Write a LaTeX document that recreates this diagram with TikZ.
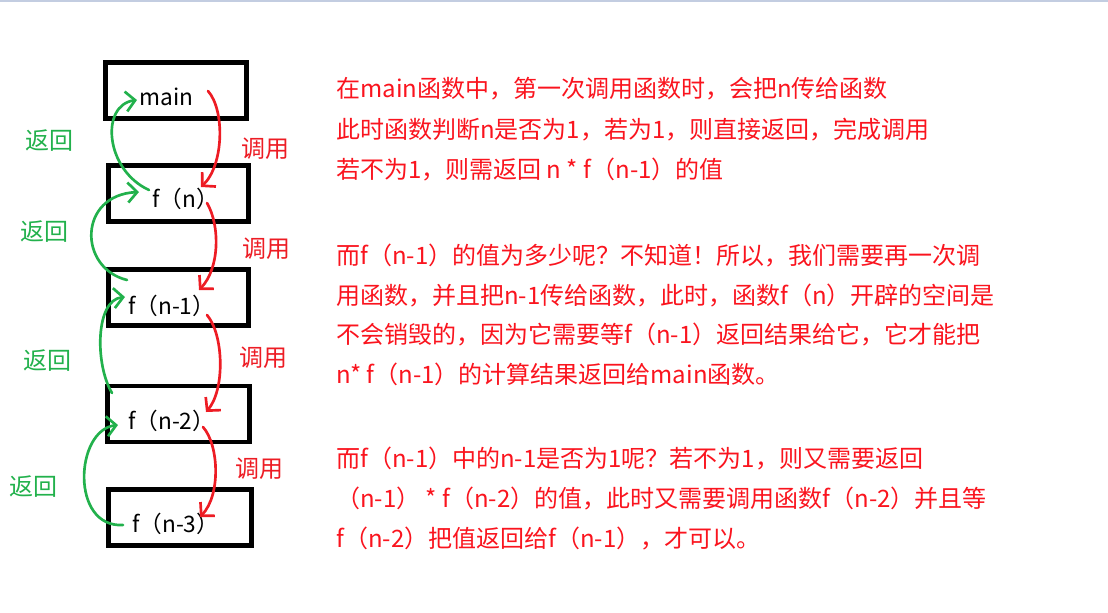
\documentclass[tikz,border=0pt]{standalone}
\usepackage{fontspec}
\setmainfont{Noto Sans CJK SC}
\usetikzlibrary{arrows.meta}
\definecolor{pred}{RGB}{237,28,36}
\definecolor{pgreen}{RGB}{34,177,76}
\definecolor{tred}{RGB}{250,20,30}
\definecolor{topline}{RGB}{195,205,225}
\begin{document}
\begin{tikzpicture}[x=0.75pt,y=-0.75pt,
  frame/.style={draw=black,line width=3.6pt,inner sep=0pt,minimum height=42pt},
  boxtext/.style={anchor=base west,inner sep=0pt,font=\fontsize{17}{20}\selectfont},
  calllabel/.style={anchor=base,inner sep=0pt,text=pred,font=\fontsize{18}{21}\selectfont},
  retlabel/.style={anchor=base,inner sep=0pt,text=pgreen,font=\fontsize{18}{21}\selectfont},
  para/.style={anchor=base west,inner sep=0pt,text=tred,font=\fontsize{18}{21}\selectfont},
  callarrow/.style={draw=pred,line width=2pt,line cap=round,-{Straight Barb[length=7pt,width=15pt,line width=2pt]}},
  retarrow/.style={draw=pgreen,line width=2pt,line cap=round,-{Straight Barb[length=7pt,width=15pt,line width=2pt]}}]
\useasboundingbox (0,0) rectangle (1108,612);
\fill[topline] (0,0) rectangle (1108,2);

% boxes
\node[frame,minimum width=105.75pt] (bmain) at (176,90.5) {};
\node[frame,minimum width=105pt] (bfn) at (178.5,193.5) {};
\node[frame,minimum width=105pt] (bfn1) at (178.5,297.5) {};
\node[frame,minimum width=106.5pt] (bfn2) at (178.5,414) {};
\node[frame,minimum width=107.25pt] (bfn3) at (180,517.5) {};

% box texts
\node[boxtext] (tmain) at (139,105) {main};
\node[boxtext] (tfn) at (152,207) {f（n）};
\node[boxtext] (tfn1) at (128,314) {f（n-1）};
\node[boxtext] (tfn2) at (128,429) {f（n-2）};
\node[boxtext] (tfn3) at (132,532) {f（n-3）};

% labels
\node[retlabel] (ret1) at (50,149) {返回};
\node[retlabel] (ret2) at (45,240) {返回};
\node[retlabel] (ret3) at (47,369) {返回};
\node[retlabel] (ret4) at (33,495) {返回};
\node[calllabel] (call1) at (265,157) {调用};
\node[calllabel] (call2) at (266,257) {调用};
\node[calllabel] (call3) at (263,366) {调用};
\node[calllabel] (call4) at (259,477) {调用};

% arrow end points
\coordinate (r1s) at (208,91);  \coordinate (r1e) at (201,187);
\coordinate (r2s) at (207,203); \coordinate (r2e) at (199,290);
\coordinate (r3s) at (207,315); \coordinate (r3e) at (206,412);
\coordinate (r4s) at (203,427); \coordinate (r4e) at (200,517);
\coordinate (g1s) at (149,190); \coordinate (g1e) at (137,100);
\coordinate (g2s) at (127,280); \coordinate (g2e) at (139,192);
\coordinate (g3s) at (112,393); \coordinate (g3e) at (125,297);
\coordinate (g4s) at (123,525); \coordinate (g4e) at (118,425);

% call arrows
\draw[callarrow] (r1s) .. controls (225,110) and (224,165) .. (r1e);
\draw[callarrow] (r2s) .. controls (220,225) and (220,268) .. (r2e);
\draw[callarrow] (r3s) .. controls (224,335) and (225,390) .. (r3e);
\draw[callarrow] (r4s) .. controls (219,445) and (221,495) .. (r4e);

% return arrows
\draw[retarrow] (g1s) .. controls (105,170) and (100,105) .. (g1e);
\draw[retarrow] (g2s) .. controls (78,268) and (78,195) .. (g2e);
\draw[retarrow] (g3s) .. controls (95,365) and (95,300) .. (g3e);
\draw[retarrow] (g4s) .. controls (70,528) and (75,430) .. (g4e);

% paragraphs
\node[para] (p1a) at (336,97) {在main函数中，第一次调用函数时，会把n传给函数};
\node[para] (p1b) at (336,138) {此时函数判断n是否为1，若为1，则直接返回，完成调用};
\node[para] (p1c) at (336,178) {若不为1，则需返回 n * f（n-1）的值};
\node[para] (p2a) at (336,264) {而f（n-1）的值为多少呢？不知道！所以，我们需要再一次调};
\node[para] (p2b) at (336,304) {用函数，并且把n-1传给函数，此时，函数f（n）开辟的空间是};
\node[para] (p2c) at (336,343) {不会销毁的，因为它需要等f（n-1）返回结果给它，它才能把};
\node[para] (p2d) at (336,383) {n* f（n-1）的计算结果返回给main函数。};
\node[para] (p3a) at (336,467) {而f（n-1）中的n-1是否为1呢？若不为1，则又需要返回};
\node[para] (p3b) at (336,507) {（n-1） * f（n-2）的值，此时又需要调用函数f（n-2）并且等};
\node[para] (p3c) at (336,547) {f（n-2）把值返回给f（n-1），才可以。};
\end{tikzpicture}
\end{document}
